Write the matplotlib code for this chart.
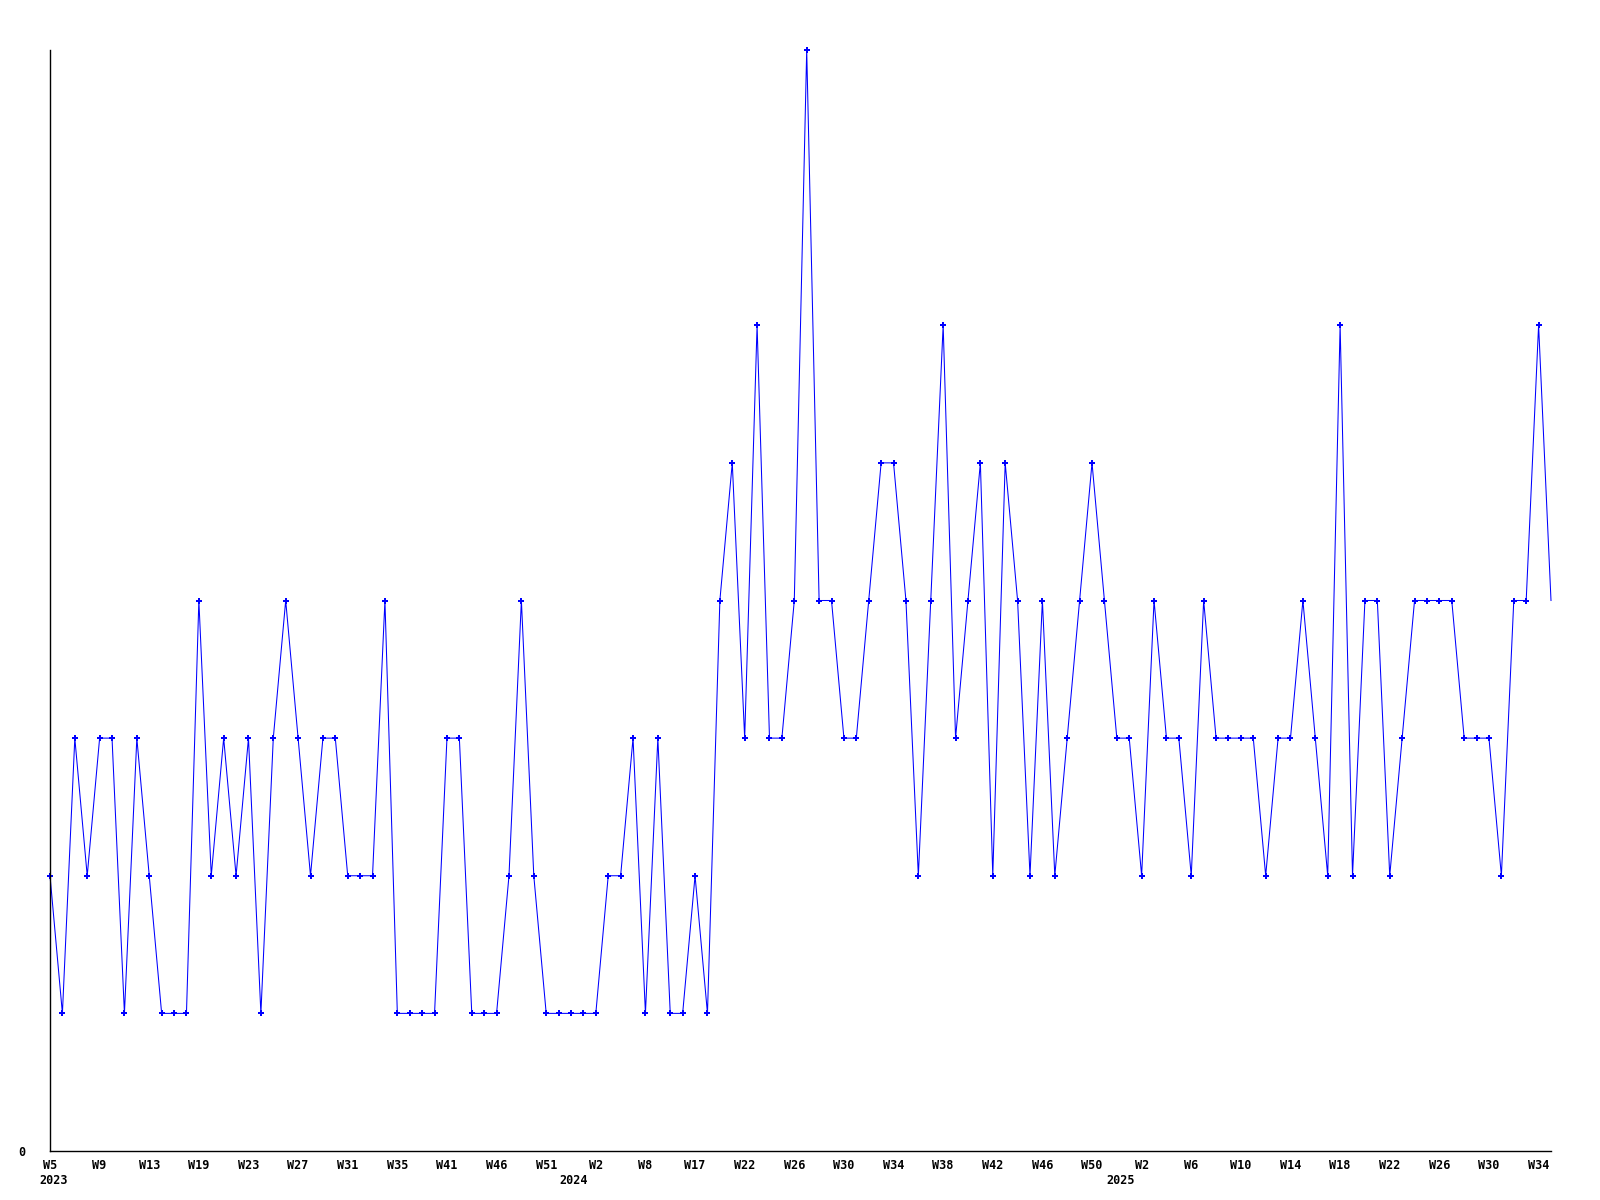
import matplotlib
matplotlib.use("Agg")
import matplotlib.pyplot as plt

# Weekly counts, 2023-W5 .. 2025-W35 (122 points)
values = [2, 1, 3, 2, 3, 3, 1, 3, 2, 1, 1, 1, 4, 2, 3, 2, 3, 1, 3, 4,
          3, 2, 3, 3, 2, 2, 2, 4, 1, 1, 1, 1, 3, 3, 1, 1, 1, 2, 4, 2,
          1, 1, 1, 1, 1, 2, 2, 3, 1, 3, 1, 1, 2, 1, 4, 5, 3, 6, 3, 3,
          4, 8, 4, 4, 3, 3, 4, 5, 5, 4, 2, 4, 6, 3, 4, 5, 2, 5, 4, 2,
          4, 2, 3, 4, 5, 4, 3, 3, 2, 4, 3, 3, 2, 4, 3, 3, 3, 3, 2, 3,
          3, 4, 3, 2, 6, 2, 4, 4, 2, 3, 4, 4, 4, 4, 3, 3, 3, 2, 4, 4,
          6, 4]

tick_labels = ["W5", "W9", "W13", "W19", "W23", "W27", "W31", "W35", "W41",
               "W46", "W51", "W2", "W8", "W17", "W22", "W26", "W30", "W34",
               "W38", "W42", "W46", "W50", "W2", "W6", "W10", "W14", "W18",
               "W22", "W26", "W30", "W34"]
tick_step = 4

year_labels = ["2023", "2024", "2025"]
year_label_pos = [0.3, 42.2, 86.3]

x = list(range(len(values)))
tick_pos = [i * tick_step for i in range(len(tick_labels))]

fig = plt.figure(figsize=(16, 12), dpi=100)
ax = fig.add_axes([50 / 1600, 1 - 1151 / 1200, 1501 / 1600, 1101 / 1200])

ax.plot(x, values, color="#0000ff", linewidth=0.75, antialiased=True,
        marker="P", markersize=5, markeredgewidth=0,
        markevery=slice(0, len(values) - 1), clip_on=False)

ax.set_xlim(0, len(values) - 1)
ax.set_ylim(0, 8)

for s in ["top", "right"]:
    ax.spines[s].set_visible(False)
for s in ["left", "bottom"]:
    ax.spines[s].set_linewidth(1.0)
    ax.spines[s].set_color("black")

font = dict(family="DejaVu Sans Mono", weight="bold", size=8.5)

ax.set_xticks(tick_pos)
ax.set_xticklabels(tick_labels, **font)
ax.tick_params(axis="x", length=0, pad=6)
ax.set_yticks([0])
ax.set_yticklabels(["0"], **font)
ax.tick_params(axis="y", length=0, pad=18)

for lab, pos in zip(year_labels, year_label_pos):
    ax.annotate(lab, xy=(pos, 0), xycoords=("data", "axes fraction"),
                xytext=(0, -29), textcoords="offset pixels",
                ha="center", va="center", **font)

fig.savefig("out.png", dpi=100)
